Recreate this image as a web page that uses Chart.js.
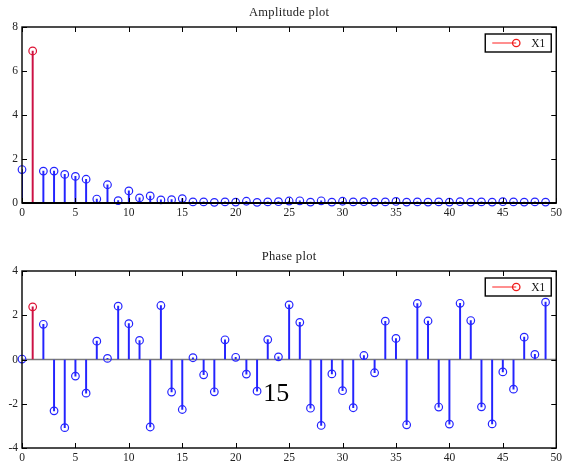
<!DOCTYPE html>
<html>
<head>
<meta charset="utf-8">
<script src="https://cdn.jsdelivr.net/npm/chart.js@4/dist/chart.umd.min.js"></script>
<style>
html,body{margin:0;padding:0;background:#fff;}
#wrap{position:relative;width:565px;height:466px;}
canvas{position:absolute;left:0;}
#c1{top:0;}
#c2{top:233px;}
</style>
</head>
<body>
<div id="wrap">
<canvas id="c1" width="565" height="233"></canvas>
<canvas id="c2" width="565" height="233"></canvas>
</div>
<script>
// ---- data ----
const bins = [0,1,2,3,4,5,6,7,8,9,10,11,12,13,14,15,16,17,18,19,20,21,22,23,24,25,26,27,28,29,30,31,32,33,34,35,36,37,38,39,40,41,42,43,44,45,46,47,48,49];
const amplitude = [1.52,6.91,1.45,1.45,1.30,1.21,1.08,0.18,0.83,0.11,0.55,0.23,0.32,0.14,0.15,0.20,0.05,0.05,0.03,0.05,0.04,0.08,0.03,0.05,0.06,0.09,0.10,0.04,0.10,0.04,0.08,0.05,0.06,0.04,0.05,0.07,0.04,0.05,0.04,0.05,0.04,0.06,0.04,0.05,0.04,0.06,0.05,0.04,0.05,0.04];
const phase = [0.02,2.38,1.59,-2.32,-3.08,-0.75,-1.52,0.83,0.05,2.41,1.62,0.86,-3.05,2.44,-1.47,-2.26,0.08,-0.69,-1.46,0.89,0.10,-0.66,-1.43,0.90,0.12,2.47,1.68,-2.20,-2.98,-0.65,-1.41,-2.18,0.18,-0.60,1.73,0.95,-2.95,2.53,1.74,-2.15,-2.92,2.54,1.76,-2.14,-2.91,-0.56,-1.34,1.01,0.23,2.59];
const highlightBin = 1;
const legendLabel = 'X1';
const xTicks = [0,5,10,15,20,25,30,35,40,45,50];
const ampTicks = [0,2,4,6,8];
const phaseTicks = [-4,-2,0,2,4];
const annotationText = '15';
const annotationAt = {x: 23.8, y: -1.55};

const SERIF = '"Liberation Serif", "DejaVu Serif", serif';
const BLUE = '#2424ff';
const RED_STEM = '#cc1144';
const RED_MARK = '#dd1133';

function framePlugin(titleText, baseline, ticksX, ticksY, annotation) {
  return {
    id: 'frame',
    beforeDatasetsDraw(chart) {
      const ctx = chart.ctx, a = chart.chartArea, ys = chart.scales.y;
      if (baseline === 'gray') {
        const y0 = ys.getPixelForValue(0);
        ctx.save();
        ctx.strokeStyle = '#7a7a7a';
        ctx.lineWidth = 1.5;
        ctx.beginPath(); ctx.moveTo(a.left, y0); ctx.lineTo(a.right, y0); ctx.stroke();
        ctx.restore();
      }
    },
    afterDraw(chart) {
      const ctx = chart.ctx, a = chart.chartArea, xs = chart.scales.x, ys = chart.scales.y;
      ctx.save();
      ctx.strokeStyle = '#000';
      ctx.lineWidth = 1;
      const tl = 5;
      ctx.beginPath();
      ticksX.forEach(v => {
        const px = Math.round(xs.getPixelForValue(v)) + 0.5;
        ctx.moveTo(px, a.bottom); ctx.lineTo(px, a.bottom - tl);
        ctx.moveTo(px, a.top); ctx.lineTo(px, a.top + tl);
      });
      ticksY.forEach(v => {
        const py = Math.round(ys.getPixelForValue(v)) + 0.5;
        ctx.moveTo(a.left, py); ctx.lineTo(a.left + tl, py);
        ctx.moveTo(a.right, py); ctx.lineTo(a.right - tl, py);
      });
      ctx.stroke();
      ctx.lineWidth = 1.4;
      ctx.strokeRect(a.left, a.top, a.right - a.left, a.bottom - a.top);
      if (baseline === 'black') {
        ctx.lineWidth = 2.2;
        ctx.beginPath(); ctx.moveTo(a.left, a.bottom); ctx.lineTo(a.right, a.bottom); ctx.stroke();
      }
      // title
      ctx.fillStyle = '#222';
      ctx.font = '12.5px ' + SERIF;
      try { ctx.letterSpacing = '0.3px'; } catch (e) {}
      ctx.textAlign = 'center';
      ctx.textBaseline = 'alphabetic';
      ctx.fillText(titleText, (a.left + a.right) / 2, a.top - 11);
      try { ctx.letterSpacing = '0px'; } catch (e) {}
      // legend
      const bx = a.right - 71, by = a.top + 7, bw = 66, bh = 18;
      ctx.fillStyle = '#fff';
      ctx.fillRect(bx, by, bw, bh);
      ctx.strokeStyle = '#000';
      ctx.lineWidth = 1.4;
      ctx.strokeRect(bx, by, bw, bh);
      const ly = by + bh / 2;
      ctx.strokeStyle = '#ff6a6a';
      ctx.lineWidth = 1.5;
      ctx.beginPath(); ctx.moveTo(bx + 7, ly); ctx.lineTo(bx + 31, ly); ctx.stroke();
      ctx.strokeStyle = '#ee1c1c';
      ctx.lineWidth = 1.3;
      ctx.beginPath(); ctx.arc(bx + 31, ly, 3.7, 0, Math.PI * 2); ctx.stroke();
      ctx.fillStyle = '#111';
      ctx.font = '11.5px ' + SERIF;
      ctx.textAlign = 'left';
      ctx.textBaseline = 'middle';
      ctx.fillText(legendLabel, bx + 46, ly + 1);
      if (annotation) {
        ctx.fillStyle = '#000';
        ctx.font = '26px ' + SERIF;
        ctx.textAlign = 'center';
        ctx.textBaseline = 'middle';
        ctx.fillText(annotation.text, xs.getPixelForValue(annotation.x), ys.getPixelForValue(annotation.y));
      }
      ctx.restore();
    }
  };
}

function makeChart(canvasId, values, yTicks, title, baseline, topPad, xAxisH, annotation) {
  const pts = bins.map((b, i) => ({x: b, y: values[i]}));
  const stemColors = bins.map(b => b === highlightBin ? RED_STEM : BLUE);
  const markColors = bins.map(b => b === highlightBin ? RED_MARK : BLUE);
  return new Chart(document.getElementById(canvasId), {
    type: 'bar',
    data: {
      datasets: [
        {
          type: 'bar',
          data: pts,
          backgroundColor: stemColors,
          borderWidth: 0,
          barThickness: 1.3,
          order: 2
        },
        {
          type: 'line',
          data: pts,
          showLine: false,
          pointRadius: 3.8,
          pointHoverRadius: 3.8,
          pointBorderWidth: 1.2,
          pointBorderColor: markColors,
          pointBackgroundColor: 'rgba(0,0,0,0)',
          clip: false,
          order: 1
        }
      ]
    },
    options: {
      responsive: false,
      animation: false,
      devicePixelRatio: 1,
      layout: {padding: {left: 0, right: 8, top: topPad, bottom: 0}},
      plugins: {legend: {display: false}, tooltip: {enabled: false}, title: {display: false}},
      scales: {
        x: {
          type: 'linear', min: 0, max: 50, offset: false,
          afterBuildTicks: s => { s.ticks = xTicks.map(v => ({value: v})); },
          ticks: {font: {family: SERIF, size: 11.5}, color: '#222', padding: 3, maxRotation: 0, autoSkip: false},
          grid: {display: true, drawOnChartArea: false, drawTicks: false},
          border: {display: false},
          afterFit: s => { s.height = xAxisH; }
        },
        y: {
          min: yTicks[0], max: yTicks[yTicks.length - 1],
          afterBuildTicks: s => { s.ticks = yTicks.map(v => ({value: v})); },
          ticks: {font: {family: SERIF, size: 11.5}, color: '#222', padding: 4},
          grid: {display: true, drawOnChartArea: false, drawTicks: false},
          border: {display: false},
          afterFit: s => { s.width = 22; }
        }
      }
    },
    plugins: [framePlugin(title, baseline, xTicks, yTicks, annotation)]
  });
}

makeChart('c1', amplitude, ampTicks, 'Amplitude plot', 'black', 27, 30, null);
makeChart('c2', phase, phaseTicks, 'Phase plot', 'gray', 38, 18,
  {text: annotationText, x: annotationAt.x, y: annotationAt.y});
</script>
</body>
</html>
